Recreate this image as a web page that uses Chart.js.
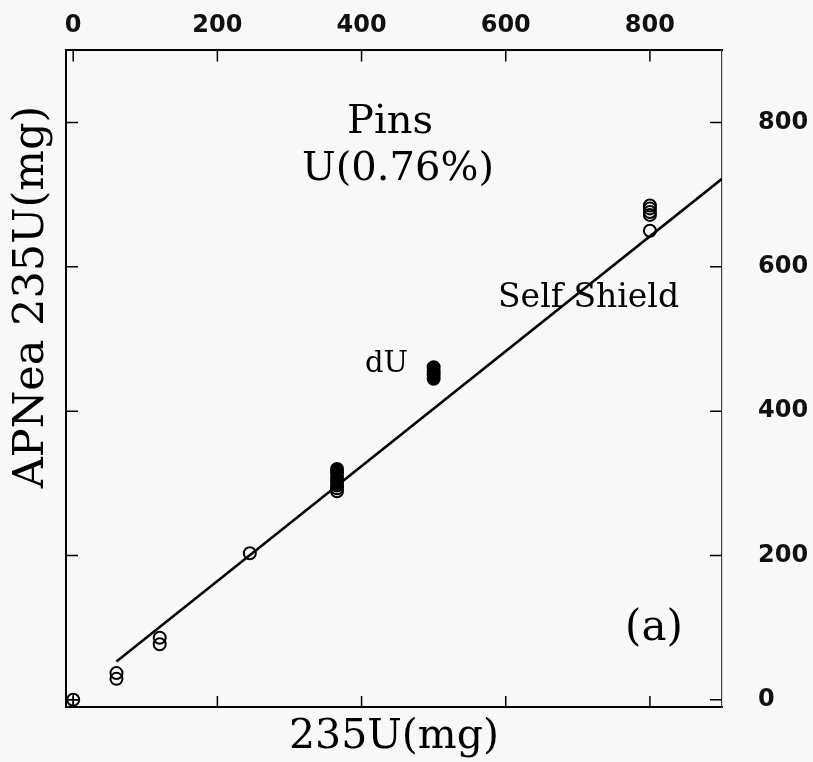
<!DOCTYPE html>
<html>
<head>
<meta charset="utf-8">
<script src="https://cdn.jsdelivr.net/npm/chart.js@4.4.0/dist/chart.umd.min.js"></script>
<style>
  html, body { margin: 0; padding: 0; background: #f8f8f8; }
  #wrap { width: 813px; height: 762px; }
</style>
</head>
<body>
<div id="wrap"><canvas id="apnea" width="813" height="762"></canvas></div>
<script>
// --- values ---
const tickValues = [0, 200, 400, 600, 800];
const openX = [0, 60, 60, 120, 120, 245, 366, 366, 800, 800, 800, 800, 800];
const openY = [0, 29, 37, 77, 86, 203, 289, 293, 650, 672, 676, 681, 685];
const filledX = [366, 366, 366, 366, 366, 500, 500, 500, 500];
const filledY = [297, 303, 309, 315, 320, 445, 450, 455, 461];
const crossX = [0];
const crossY = [0];
const fitX = [60, 900];
const fitY = [53, 722];

const toPoints = (xs, ys) => xs.map((x, i) => ({ x, y: ys[i] }));

// --- background ---
const paper = {
  id: "paper",
  beforeDraw(chart) {
    const { ctx, width, height } = chart;
    ctx.save();
    ctx.fillStyle = "#f8f8f8";
    ctx.fillRect(0, 0, width, height);
    ctx.restore();
  },
};

// --- tick marks pointing into the frame on all four sides ---
const inwardTicks = {
  id: "inwardTicks",
  afterDatasetsDraw(chart) {
    const { ctx, chartArea: a, scales } = chart;
    ctx.save();
    ctx.strokeStyle = "#000";
    ctx.lineWidth = 1.5;
    tickValues.forEach((v) => {
      const px = scales.x.getPixelForValue(v);
      const py = scales.y.getPixelForValue(v);
      ctx.beginPath();
      ctx.moveTo(px, a.bottom); ctx.lineTo(px, a.bottom - 11);
      ctx.moveTo(px, a.top); ctx.lineTo(px, a.top + 11);
      ctx.moveTo(a.left, py); ctx.lineTo(a.left + 12, py);
      ctx.moveTo(a.right, py); ctx.lineTo(a.right - 12, py);
      ctx.stroke();
    });
    ctx.restore();
  },
};

// --- text inside the plot + rotated left title ---
const notes = {
  id: "notes",
  afterDraw(chart) {
    const { ctx } = chart;
    ctx.save();
    ctx.fillStyle = "#000";
    ctx.textBaseline = "alphabetic";

    ctx.font = '40px "DejaVu Serif"';
    ctx.textAlign = "center";
    ctx.fillText("Pins", 390, 133);
    ctx.fillText("U(0.76%)", 398, 180);
    ctx.font = '42px "DejaVu Serif"';
    ctx.fillText("(a)", 654, 640);

    ctx.textAlign = "left";
    ctx.font = '33px "DejaVu Serif"';
    ctx.fillText("Self Shield", 498, 307);
    ctx.font = '29px "DejaVu Serif"';
    ctx.fillText("dU", 365, 372);

    ctx.translate(43, 297);
    ctx.rotate(-Math.PI / 2);
    ctx.textAlign = "center";
    ctx.font = '43px "DejaVu Serif"';
    ctx.fillText("APNea 235U(mg)", 0, 0);
    ctx.restore();
  },
};

const frame = { display: true, color: "#000", width: 2 };
const tickFont = { family: "DejaVu Sans", size: 24, weight: "bold" };
const fixedTicks = (s) => { s.ticks = tickValues.map((v) => ({ value: v })); };

new Chart(document.getElementById("apnea"), {
  type: "scatter",
  data: {
    datasets: [
      {
        label: "open",
        data: toPoints(openX, openY),
        pointStyle: "circle",
        pointRadius: 6,
        pointBorderWidth: 2,
        pointBorderColor: "#000",
        pointBackgroundColor: "rgba(0,0,0,0)",
        clip: false,
      },
      {
        label: "origin",
        data: toPoints(crossX, crossY),
        pointStyle: "cross",
        pointRadius: 6,
        pointBorderWidth: 1.5,
        pointBorderColor: "#000",
        clip: false,
      },
      {
        label: "dU",
        data: toPoints(filledX, filledY),
        pointStyle: "circle",
        pointRadius: 6,
        pointBorderWidth: 2,
        pointBorderColor: "#000",
        pointBackgroundColor: "#000",
      },
      {
        label: "fit",
        data: toPoints(fitX, fitY),
        showLine: true,
        borderColor: "#000",
        borderWidth: 2.5,
        pointRadius: 0,
      },
    ],
  },
  options: {
    responsive: false,
    animation: false,
    layout: { padding: 0 },
    plugins: { legend: { display: false }, tooltip: { enabled: false } },
    scales: {
      x: {
        position: "bottom", min: -10, max: 900,
        ticks: { display: false },
        grid: { display: false, drawTicks: false },
        border: frame,
        title: {
          display: true, text: "235U(mg)", color: "#000", padding: 0,
          font: { family: "DejaVu Serif", size: 41 },
        },
        afterFit(s) { s.height = 55; },
      },
      x2: {
        position: "top", min: -10, max: 900,
        afterBuildTicks: fixedTicks,
        ticks: { font: tickFont, color: "#111", padding: 10, maxRotation: 0, autoSkip: false },
        grid: { display: false, drawTicks: false },
        border: frame,
        afterFit(s) { s.height = 48; },
      },
      y: {
        position: "left", min: -10, max: 900,
        ticks: { display: false },
        grid: { display: false, drawTicks: false },
        border: frame,
        afterFit(s) { s.width = 66; },
      },
      y2: {
        position: "right", min: -10, max: 900,
        afterBuildTicks: fixedTicks,
        ticks: { font: tickFont, color: "#111", padding: 36, autoSkip: false },
        grid: { display: false, drawTicks: false },
        border: { display: true, color: "#444", width: 1.2, dash: [4, 2] },
        afterFit(s) { s.width = 91; },
      },
    },
  },
  plugins: [paper, inwardTicks, notes],
});
</script>
</body>
</html>
